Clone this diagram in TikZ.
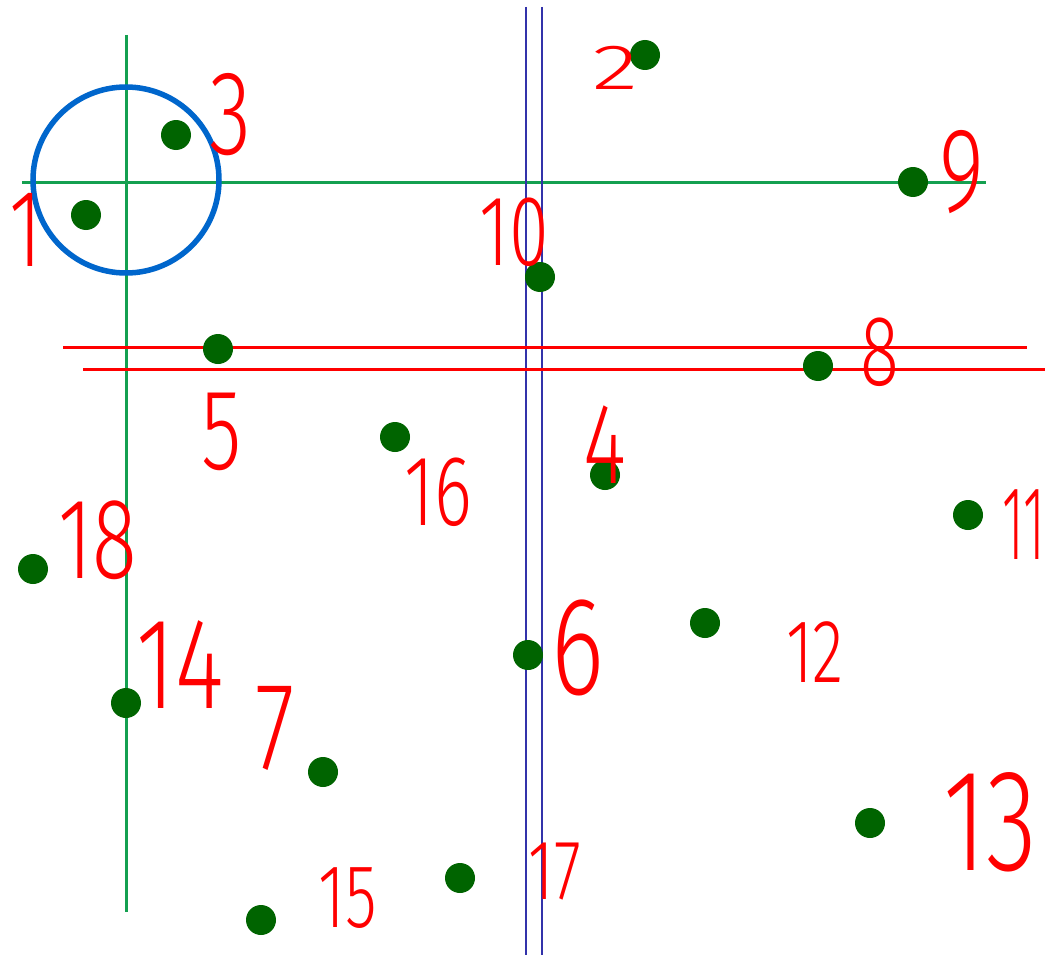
\documentclass[tikz,border=0pt]{standalone}
\usepackage{fontspec}
\usepackage{graphicx}
\newfontfamily\hand{Fira Sans Light}
\newcommand{\hn}[1]{\scalebox{0.72}[1]{#1}}
\definecolor{ptgreen}{RGB}{0,100,0}
\definecolor{lngreen}{RGB}{20,160,80}
\definecolor{cblue}{RGB}{0,102,204}
\definecolor{lblue}{RGB}{50,50,170}
\tikzset{
  pt/.style={circle,fill=ptgreen,inner sep=0pt,minimum size=30pt},
  gline/.style={draw=lngreen,line width=3pt},
  bline/.style={draw=lblue,line width=1.8pt},
  rline/.style={draw=red,line width=3pt},
  num/.style={text=red,inner sep=0pt,font=\hand\fontsize{#1}{#1}\selectfont},
  num/.default=110
}
\begin{document}
\begin{tikzpicture}[x=1pt,y=-1pt]
\useasboundingbox (0,0) rectangle (1045,958);
\fill[white] (0,0) rectangle (1045,958);
% green axes
\coordinate (gvt) at (126,35); \coordinate (gvb) at (126,912);
\coordinate (ghl) at (22,182); \coordinate (ghr) at (986,182);
\draw[gline] (gvt) -- (gvb);
\draw[gline] (ghl) -- (ghr);
% blue circle
\node[circle,draw=cblue,line width=5.5pt,minimum size=186pt,inner sep=0pt] (circ) at (126,180) {};
% blue vertical lines
\coordinate (b1t) at (526,7); \coordinate (b1b) at (526,955);
\coordinate (b2t) at (542,7); \coordinate (b2b) at (542,955);
\draw[bline] (b1t) -- (b1b);
\draw[bline] (b2t) -- (b2b);
% red horizontal lines
\coordinate (r1l) at (63,347); \coordinate (r1r) at (1027,347);
\coordinate (r2l) at (83,369); \coordinate (r2r) at (1045,369);
\draw[rline] (r1l) -- (r1r);
\draw[rline] (r2l) -- (r2r);
% points
\node[pt] (p1) at (86,215) {};
\node[pt] (p2) at (645,55) {};
\node[pt] (p3) at (176,135) {};
\node[pt] (p4) at (605,475) {};
\node[pt] (p5) at (218,349) {};
\node[pt] (p6) at (528,655) {};
\node[pt] (p7) at (323,772) {};
\node[pt] (p8) at (818,366) {};
\node[pt] (p9) at (913,182) {};
\node[pt] (p10) at (540,277) {};
\node[pt] (p11) at (968,515) {};
\node[pt] (p12) at (705,623) {};
\node[pt] (p13) at (870,823) {};
\node[pt] (p14) at (126,703) {};
\node[pt] (p15) at (261,920) {};
\node[pt] (p16) at (395,437) {};
\node[pt] (p17) at (460,878) {};
\node[pt] (p18) at (33,569) {};
% labels
\node[num=110] (l1) at (26,230) {\hn{1}};
\node[num=120] (l3) at (230,115) {\hn{3}};
\node[num=80] (l2) at (615,68) {\scalebox{1.2}[0.8]{2}};
\node[num=120] (l9) at (962,172) {\hn{9}};
\node[num=100] (l10) at (514,232) {\hn{10}};
\node[num=100] (l8) at (880,352) {\hn{8}};
\node[num=115] (l5) at (222,432) {\hn{5}};
\node[num=100] (l16) at (438,492) {\hn{16}};
\node[num=115] (l4) at (605,445) {\hn{4}};
\node[num=105,anchor=east] (l11) at (1045,525) {\scalebox{0.5}[1]{11}};
\node[num=115] (l18) at (98,540) {\hn{18}};
\node[num=130] (l14) at (180,665) {\hn{14}};
\node[num=125] (l7) at (275,728) {\hn{7}};
\node[num=140] (l6) at (578,648) {\hn{6}};
\node[num=90] (l12) at (815,652) {\hn{12}};
\node[num=145] (l13) at (990,822) {\hn{13}};
\node[num=90] (l15) at (348,898) {\hn{15}};
\node[num=85] (l17) at (555,872) {\hn{17}};
\end{tikzpicture}
\end{document}
